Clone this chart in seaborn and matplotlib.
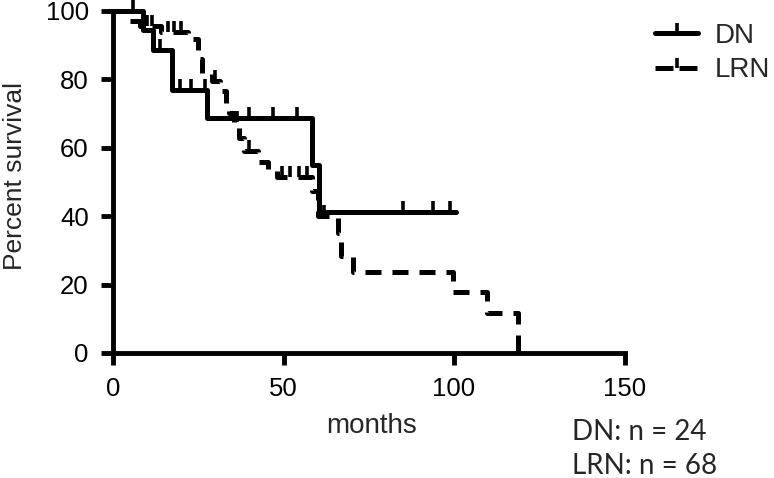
import seaborn as sns
import matplotlib.pyplot as plt
import matplotlib.markers as mmarkers
from matplotlib.lines import Line2D
import pandas as pd
import numpy as np

# step curves (months, percent survival)
dn_time = [0, 8.8, 11.7, 17.3, 27.6, 58.3, 60.5, 100.5]
dn_surv = [100, 94.4, 88.6, 77.0, 68.6, 55.0, 41.2, 41.2]
dn_cens_time = [13.8, 19.6, 23.0, 26.9, 40.0, 47.0, 54.0, 85.0, 93.8, 98.8]
dn_cens_surv = [88.6, 77.0, 77.0, 77.0, 68.6, 68.6, 68.6, 41.2, 41.2, 41.2]

lrn_time = [0, 5.0, 8.0, 14.0, 22.0, 25.0, 26.0, 29.0, 31.5, 33.0, 34.0, 35.5,
            37.0, 38.5, 42.5, 45.5, 48.0, 58.5, 60.0, 66.0, 67.0, 70.5, 99.7,
            109.7, 118.8]
lrn_surv = [100, 97.0, 95.5, 94.0, 91.8, 86.0, 82.0, 79.5, 76.5, 73.0, 70.2, 67.5,
            63.0, 59.0, 55.8, 53.5, 51.5, 47.5, 40.0, 35.0, 28.5, 23.7, 17.8,
            11.7, 0]
lrn_cens_time = [6.0, 10.0, 11.5, 16.0, 18.0, 20.0, 30.0, 36.5, 40.0, 49.5, 52.0,
                 54.5, 57.0, 62.0]
lrn_cens_surv = [100, 95.5, 95.5, 94.0, 94.0, 94.0, 79.5, 67.5, 59.0, 51.5, 51.5,
                 51.5, 51.5, 40.0]

groups = ["DN", "LRN"]
n_text = ["DN: n = 24", "LRN: n = 68"]

sns.set_style("ticks")
plt.rcParams['font.family'] = ['Liberation Sans', 'DejaVu Sans']

fig = plt.figure(figsize=(7.74, 4.78), dpi=100)
ax = fig.add_axes([113 / 774, 1 - 353 / 478, 511.5 / 774, 342 / 478])

lw = 3.6
dash = (0, (3.2, 2.2))

dn = pd.DataFrame({"t": dn_time, "s": dn_surv})
lrn = pd.DataFrame({"t": lrn_time, "s": lrn_surv})
sns.lineplot(data=dn, x="t", y="s", drawstyle="steps-post", estimator=None,
             sort=False, color="black", linewidth=lw, ax=ax, clip_on=False)
sns.lineplot(data=lrn, x="t", y="s", drawstyle="steps-post", estimator=None,
             sort=False, color="black", linewidth=lw, linestyle=dash, ax=ax,
             clip_on=False)

# censoring marks
for ct, cs in [(dn_cens_time, dn_cens_surv), (lrn_cens_time, lrn_cens_surv)]:
    sns.scatterplot(x=ct, y=cs, marker=mmarkers.TICKUP, s=60, linewidth=2.6,
                    color="black", ax=ax, clip_on=False, zorder=5)

ax.set_xlim(0, 150)
ax.set_ylim(0, 100)
ax.set_xticks([0, 50, 100, 150])
ax.set_yticks([0, 20, 40, 60, 80, 100])
ax.tick_params(axis="both", direction="out", length=8.5, width=3.5, labelsize=18.5,
               color="black", labelcolor="black", pad=9)
ax.tick_params(axis="x", pad=9)
for side in ["left", "bottom"]:
    ax.spines[side].set_linewidth(3.5)
    ax.spines[side].set_color("black")
sns.despine(ax=ax)

ax.set_xlabel("")
ax.set_ylabel("")
fig.text(372 / 774, 1 - 426 / 478, "months", ha="center", va="center", fontsize=20)
fig.text(15 / 774, 1 - 176 / 478, "Percent survival", ha="center", va="center",
         rotation=90, fontsize=19)

for i, t in enumerate(n_text):
    fig.text(572 / 774, 1 - (432 + 34 * i) / 478, t, ha="left", va="center",
             fontsize=20, family=["Lato", "DejaVu Sans"])

handles = [
    Line2D([0], [0], color="black", lw=lw, marker=mmarkers.TICKUP, ms=7, mew=2.6),
    Line2D([0], [0], color="black", lw=lw, linestyle=(0, (3.6, 1.2)),
           marker=mmarkers.TICKUP, ms=7, mew=2.6),
]
fig.legend(handles, groups, loc="upper left", bbox_to_anchor=(655 / 774, 1 - 23 / 478),
           frameon=False, fontsize=20, handlelength=1.55, handletextpad=0.6,
           labelspacing=0.3, borderpad=0, borderaxespad=0, numpoints=1)

fig.savefig("out.png", dpi=100)
